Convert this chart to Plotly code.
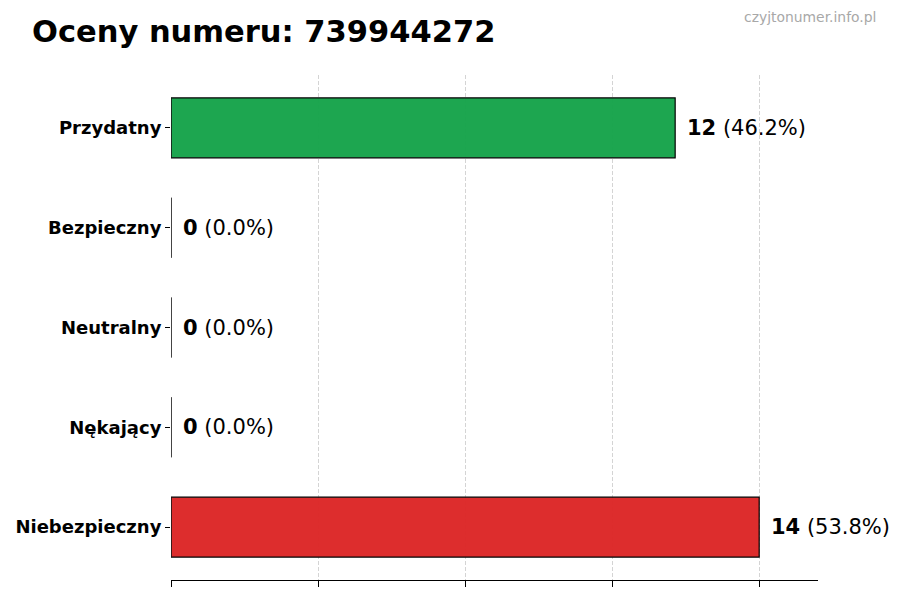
import plotly.graph_objects as go

categories = ["Przydatny", "Bezpieczny", "Neutralny", "Nękający", "Niebezpieczny"]
values = [12, 0, 0, 0, 14]
colors = ["rgba(22,163,74,0.97)", "rgba(37,99,235,0.97)", "rgba(156,163,175,0.97)",
          "rgba(245,158,11,0.97)", "rgba(220,38,38,0.97)"]
title_text = "Oceny numeru: 739944272"
watermark = "czyjtonumer.info.pl"

total = sum(values)
order = categories[::-1]
bases = [0 for _ in values]

# page body has an 8px margin; compensate so the plot area sits where the reference has it
OFF = 8
L, T, R, B = 171 - OFF, 75 - OFF, 900 + OFF - 818, 600 + OFF - 580

fig = go.Figure()
fig.add_trace(go.Bar(
    x=values, y=categories, orientation="h", width=0.6,
    marker=dict(color=colors, line=dict(color="#000000", width=1.2)),
    hoverinfo="skip",
))
# outline of bars at their base (visible for zero-length bars)
fig.add_trace(go.Scatter(
    x=bases, y=categories, mode="markers",
    marker=dict(symbol="line-ns", size=43, line=dict(color="#222222", width=1)),
    hoverinfo="skip",
))

for c, v in zip(categories, values):
    pct = 100.0 * v / total if total else 0
    fig.add_annotation(
        x=v, y=c, xref="x", yref="y",
        text=f"<b>{v}</b> ({pct:.1f}%)",
        showarrow=False, xanchor="left", yanchor="middle", xshift=10,
        font=dict(family="DejaVu Sans", size=21, color="#000000"),
    )

fig.add_annotation(
    x=0, y=1, xref="paper", yref="paper", text=f"<b>{title_text}</b>",
    showarrow=False, xanchor="left", yanchor="middle",
    xshift=32 - 171 - 2, yshift=75 - 31,
    font=dict(family="DejaVu Sans", size=30.5, color="#000000"),
)
fig.add_annotation(
    x=1, y=1, xref="paper", yref="paper", text=watermark,
    showarrow=False, xanchor="right", yanchor="middle",
    xshift=876 - 818 + 2, yshift=75 - 17,
    font=dict(family="DejaVu Sans", size=13.9, color="#a8a8a8"),
)

fig.update_layout(
    width=900, height=600,
    margin=dict(l=L, r=R, t=T, b=B, autoexpand=False),
    plot_bgcolor="#ffffff", paper_bgcolor="#ffffff",
    showlegend=False,
    xaxis=dict(
        range=[0, 15.4], tick0=0, dtick=3.5, showticklabels=False,
        showgrid=True, gridcolor="#d4d4d4", griddash="4px,2px", gridwidth=0.8,
        showline=True, linecolor="#000000", linewidth=1.2,
        ticks="outside", ticklen=6, tickcolor="#000000", tickwidth=1,
        zeroline=False, automargin=False,
    ),
    yaxis=dict(
        categoryorder="array", categoryarray=order,
        range=[-0.53, 4.53], showgrid=False, zeroline=False, showline=False,
        ticks="outside", ticklen=5, tickcolor="#000000", tickwidth=1,
        tickfont=dict(family="DejaVu Sans", size=18, color="#000000", weight="bold"),
        automargin=False,
    ),
)

fig.write_html("out.html")
